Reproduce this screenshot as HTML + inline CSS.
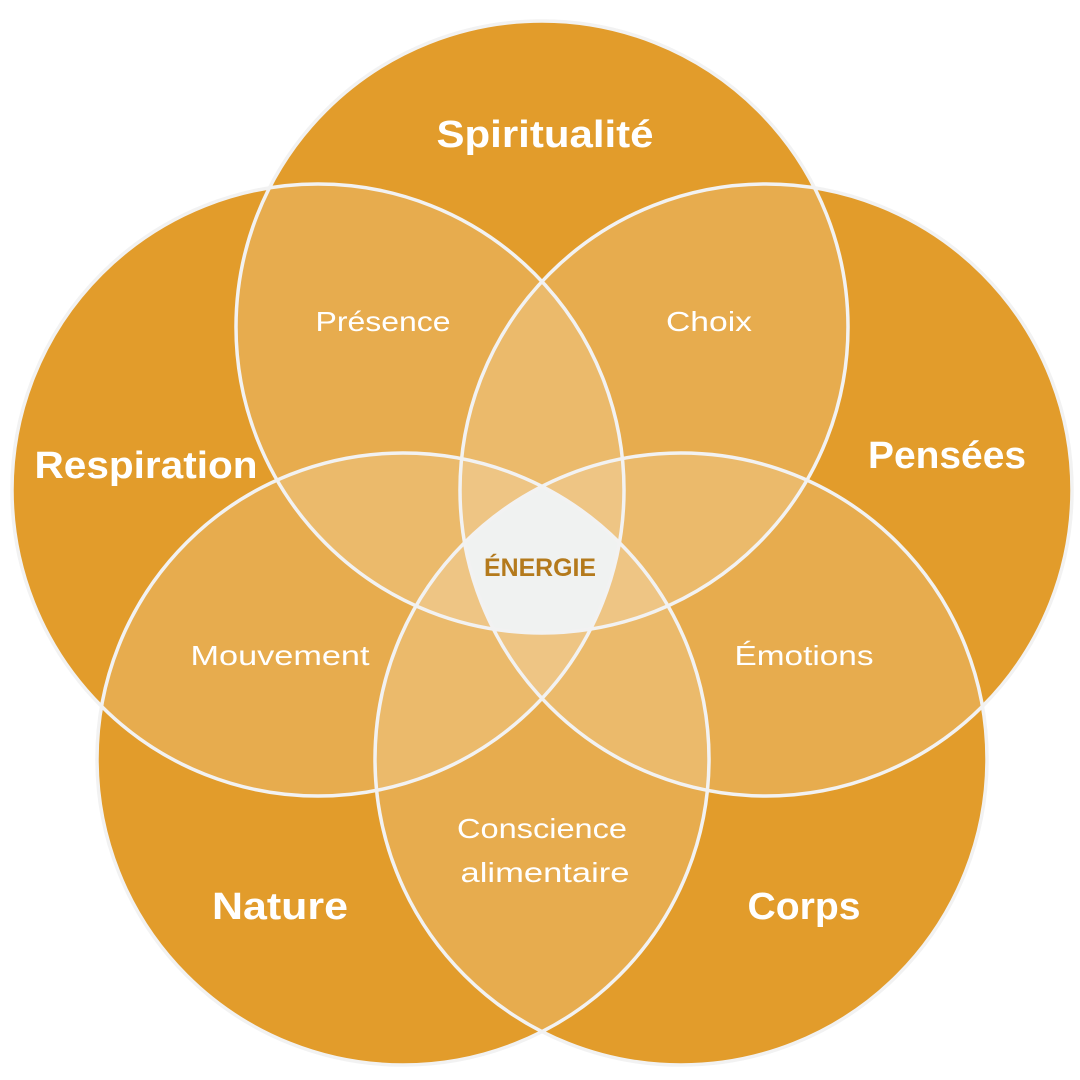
<!DOCTYPE html>
<html><head><meta charset="utf-8"><style>
html,body{margin:0;padding:0;background:#fff;width:1080px;height:1080px;overflow:hidden}
</style></head><body>
<svg width="1080" height="1080" viewBox="0 0 1080 1080" xmlns="http://www.w3.org/2000/svg">
<defs>
<circle id="c1" cx="542" cy="327" r="306"/>
<circle id="c2" cx="766" cy="490" r="306"/>
<circle id="c3" cx="318" cy="490" r="306"/>
<circle id="c4" cx="403" cy="759" r="306"/>
<circle id="c5" cx="681" cy="759" r="306"/>
<clipPath id="k1"><use href="#c1"/></clipPath>
<clipPath id="k2"><use href="#c2"/></clipPath>
<clipPath id="k3"><use href="#c3"/></clipPath>
<clipPath id="k4"><use href="#c4"/></clipPath>
<clipPath id="k5"><use href="#c5"/></clipPath>
</defs>
<g fill="#DD8901">
<use href="#c1"/><use href="#c2"/><use href="#c3"/><use href="#c4"/><use href="#c5"/>
</g>
<g fill="#fff" fill-opacity="0.17">
<use href="#c1"/><use href="#c2"/><use href="#c3"/><use href="#c4"/><use href="#c5"/>
</g>
<g clip-path="url(#k1)"><g clip-path="url(#k2)"><g clip-path="url(#k3)"><g clip-path="url(#k4)"><g clip-path="url(#k5)">
<rect x="0" y="0" width="1080" height="1080" fill="#F0F2F1"/>
</g></g></g></g></g>
<g fill="none" stroke="#F2F2F2" stroke-width="3.5">
<use href="#c1"/><use href="#c2"/><use href="#c3"/><use href="#c4"/><use href="#c5"/>
</g>
<g font-family="'Liberation Sans', sans-serif" fill="#fff" text-anchor="middle" lengthAdjust="spacingAndGlyphs">
<g font-size="38" font-weight="bold">
<text x="545" y="147" textLength="217" lengthAdjust="spacingAndGlyphs">Spiritualité</text>
<text x="146" y="478" textLength="223" lengthAdjust="spacingAndGlyphs">Respiration</text>
<text x="947" y="468" textLength="158" lengthAdjust="spacingAndGlyphs">Pensées</text>
<text x="280" y="919" textLength="136" lengthAdjust="spacingAndGlyphs">Nature</text>
<text x="804" y="919" textLength="113" lengthAdjust="spacingAndGlyphs">Corps</text>
</g>
<g font-size="28">
<text x="383" y="331" textLength="135" lengthAdjust="spacingAndGlyphs">Présence</text>
<text x="709" y="331" textLength="86" lengthAdjust="spacingAndGlyphs">Choix</text>
<text x="280" y="665" textLength="179" lengthAdjust="spacingAndGlyphs">Mouvement</text>
<text x="804" y="665" textLength="139" lengthAdjust="spacingAndGlyphs">Émotions</text>
<text x="542" y="838" textLength="170" lengthAdjust="spacingAndGlyphs">Conscience</text>
<text x="545" y="882" textLength="169" lengthAdjust="spacingAndGlyphs">alimentaire</text>
</g>
<text x="540" y="576" font-size="25" font-weight="bold" fill="#B47A1C" textLength="112" lengthAdjust="spacingAndGlyphs">ÉNERGIE</text>
</g>
</svg>
</body></html>
